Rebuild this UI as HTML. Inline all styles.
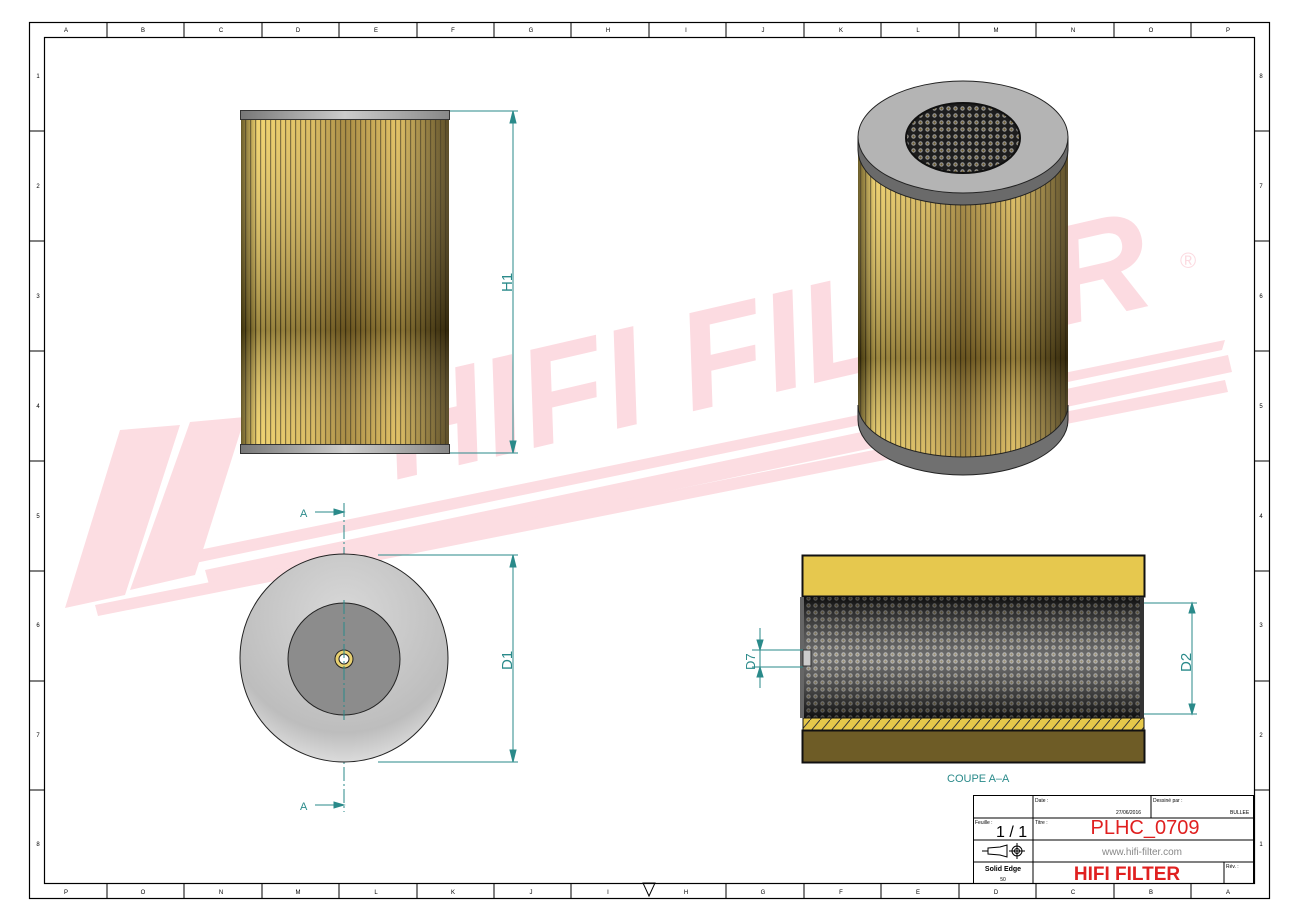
<!DOCTYPE html>
<html><head><meta charset="utf-8"><style>
body{margin:0;background:#fff}
svg{display:block}
text{font-family:"Liberation Sans",sans-serif}
</style></head><body>
<svg width="1300" height="924" viewBox="0 0 1300 924" xmlns="http://www.w3.org/2000/svg">
<defs>
<linearGradient id="gold" x1="0" x2="1" y1="0" y2="0">
<stop offset="0" stop-color="#5a4a10"/><stop offset="0.08" stop-color="#efcf62"/><stop offset="0.35" stop-color="#d6b452"/><stop offset="0.5" stop-color="#a08030"/><stop offset="0.75" stop-color="#e0bc56"/><stop offset="1" stop-color="#4a3a10"/>
</linearGradient>
<linearGradient id="goldv" x1="0" x2="0" y1="0" y2="1">
<stop offset="0" stop-color="#fff" stop-opacity="0.1"/><stop offset="0.65" stop-color="#000" stop-opacity="0.35"/><stop offset="1" stop-color="#fff" stop-opacity="0.1"/>
</linearGradient>
<pattern id="pleat" width="5" height="10" patternUnits="userSpaceOnUse"><rect width="1.2" height="10" fill="#2a2008" opacity="0.6"/></pattern>
<linearGradient id="cap" x1="0" x2="1"><stop offset="0" stop-color="#777"/><stop offset="0.5" stop-color="#ccc"/><stop offset="1" stop-color="#888"/></linearGradient>
<radialGradient id="disc" cx="0.5" cy="0.3" r="0.8"><stop offset="0" stop-color="#d8d8d8"/><stop offset="0.7" stop-color="#bdbdbd"/><stop offset="1" stop-color="#f0f0f0"/></radialGradient>
<pattern id="mesh" width="7" height="7" patternUnits="userSpaceOnUse"><rect width="7" height="7" fill="#1e1e1e"/><circle cx="3.5" cy="3.5" r="2.2" fill="#9a9a9a"/><circle cx="3.5" cy="3.5" r="1.1" fill="#6b5a2a"/></pattern>
<linearGradient id="meshsh" x1="0" x2="0" y1="0" y2="1"><stop offset="0" stop-color="#000" stop-opacity="0.5"/><stop offset="0.5" stop-color="#fff" stop-opacity="0.35"/><stop offset="1" stop-color="#000" stop-opacity="0.5"/></linearGradient>
<pattern id="hatch" width="10" height="12" patternUnits="userSpaceOnUse"><rect width="10" height="12" fill="#e6c84a"/><line x1="0" y1="12" x2="10" y2="0" stroke="#333" stroke-width="1"/></pattern>
</defs>
<rect width="1300" height="924" fill="#fff"/>
<!-- watermark -->
<g fill="#fcdde2">
<polygon points="65,608 120,430 180,425 125,595"/>
<polygon points="130,590 190,422 245,417 195,575"/>
<polygon points="205,570 1228,355 1232,372 210,588"/>
<polygon points="95,605 1225,380 1228,392 98,616"/>
<polygon points="150,560 1225,340 1222,350 152,572"/>
</g>
<text x="0" y="0" transform="translate(395,480) rotate(-13)" font-family="Liberation Serif,serif" font-weight="bold" font-style="italic" font-size="140" fill="#fcdbe1">HIFI FILTER</text>
<text x="1180" y="268" font-size="22" fill="#fcdbe1">®</text>
<!-- borders -->
<rect x="29.5" y="22.5" width="1240" height="876" fill="none" stroke="#000" stroke-width="1.2"/>
<rect x="44.5" y="37.5" width="1210" height="846" fill="none" stroke="#000" stroke-width="1.2"/>
<g stroke="#000" stroke-width="1">
<line x1="107" y1="23" x2="107" y2="37"/><line x1="184" y1="23" x2="184" y2="37"/><line x1="262" y1="23" x2="262" y2="37"/><line x1="339" y1="23" x2="339" y2="37"/><line x1="417" y1="23" x2="417" y2="37"/><line x1="494" y1="23" x2="494" y2="37"/><line x1="571" y1="23" x2="571" y2="37"/><line x1="649" y1="23" x2="649" y2="37"/><line x1="726" y1="23" x2="726" y2="37"/><line x1="804" y1="23" x2="804" y2="37"/><line x1="881" y1="23" x2="881" y2="37"/><line x1="959" y1="23" x2="959" y2="37"/><line x1="1036" y1="23" x2="1036" y2="37"/><line x1="1114" y1="23" x2="1114" y2="37"/><line x1="1191" y1="23" x2="1191" y2="37"/>
<line x1="107" y1="884" x2="107" y2="898"/><line x1="184" y1="884" x2="184" y2="898"/><line x1="262" y1="884" x2="262" y2="898"/><line x1="339" y1="884" x2="339" y2="898"/><line x1="417" y1="884" x2="417" y2="898"/><line x1="494" y1="884" x2="494" y2="898"/><line x1="571" y1="884" x2="571" y2="898"/><line x1="726" y1="884" x2="726" y2="898"/><line x1="804" y1="884" x2="804" y2="898"/><line x1="881" y1="884" x2="881" y2="898"/><line x1="959" y1="884" x2="959" y2="898"/><line x1="1036" y1="884" x2="1036" y2="898"/><line x1="1114" y1="884" x2="1114" y2="898"/><line x1="1191" y1="884" x2="1191" y2="898"/>
<line x1="30" y1="131" x2="44" y2="131"/><line x1="30" y1="241" x2="44" y2="241"/><line x1="30" y1="351" x2="44" y2="351"/><line x1="30" y1="461" x2="44" y2="461"/><line x1="30" y1="571" x2="44" y2="571"/><line x1="30" y1="681" x2="44" y2="681"/><line x1="30" y1="790" x2="44" y2="790"/>
<line x1="1255" y1="131" x2="1269" y2="131"/><line x1="1255" y1="241" x2="1269" y2="241"/><line x1="1255" y1="351" x2="1269" y2="351"/><line x1="1255" y1="461" x2="1269" y2="461"/><line x1="1255" y1="571" x2="1269" y2="571"/><line x1="1255" y1="681" x2="1269" y2="681"/><line x1="1255" y1="790" x2="1269" y2="790"/>
</g>
<g font-size="6" fill="#000" text-anchor="middle">
<text x="66" y="894">P</text><text x="143" y="894">O</text><text x="221" y="894">N</text><text x="298" y="894">M</text><text x="376" y="894">L</text><text x="453" y="894">K</text><text x="531" y="894">J</text><text x="608" y="894">I</text><text x="686" y="894">H</text><text x="763" y="894">G</text><text x="841" y="894">F</text><text x="918" y="894">E</text><text x="996" y="894">D</text><text x="1073" y="894">C</text><text x="1151" y="894">B</text><text x="1228" y="894">A</text>
<text x="1261" y="78">8</text><text x="1261" y="188">7</text><text x="1261" y="298">6</text><text x="1261" y="408">5</text><text x="1261" y="518">4</text><text x="1261" y="627">3</text><text x="1261" y="737">2</text><text x="1261" y="846">1</text>
<text x="66" y="32">A</text><text x="143" y="32">B</text><text x="221" y="32">C</text><text x="298" y="32">D</text><text x="376" y="32">E</text><text x="453" y="32">F</text><text x="531" y="32">G</text><text x="608" y="32">H</text><text x="686" y="32">I</text><text x="763" y="32">J</text><text x="841" y="32">K</text><text x="918" y="32">L</text><text x="996" y="32">M</text><text x="1073" y="32">N</text><text x="1151" y="32">O</text><text x="1228" y="32">P</text>
<text x="38" y="78">1</text><text x="38" y="188">2</text><text x="38" y="298">3</text><text x="38" y="408">4</text><text x="38" y="518">5</text><text x="38" y="627">6</text><text x="38" y="737">7</text><text x="38" y="846">8</text>
</g>
<polygon points="643,883 655,883 649,896" fill="none" stroke="#000"/>
<!-- front view -->
<rect x="241" y="119" width="208" height="325" fill="url(#gold)"/>
<rect x="241" y="119" width="208" height="325" fill="url(#pleat)"/>
<rect x="241" y="119" width="208" height="325" fill="url(#goldv)"/>
<rect x="240.5" y="110.5" width="209" height="9" fill="url(#cap)" stroke="#333"/>
<rect x="240.5" y="444.5" width="209" height="9" fill="url(#cap)" stroke="#333"/>
<g stroke="#2a8a8a" fill="#2a8a8a" stroke-width="1">
<line x1="450" y1="111" x2="518" y2="111"/><line x1="450" y1="453" x2="518" y2="453"/>
<line x1="513" y1="111" x2="513" y2="453"/>
<polygon points="513,111 510,123 516,123"/><polygon points="513,453 510,441 516,441"/>
<line x1="378" y1="555" x2="518" y2="555"/><line x1="378" y1="762" x2="518" y2="762"/>
<line x1="513" y1="555" x2="513" y2="762"/>
<polygon points="513,555 510,567 516,567"/><polygon points="513,762 510,750 516,750"/>
<line x1="344" y1="503" x2="344" y2="812" stroke-dasharray="14,3,2,3"/>
<line x1="315" y1="512" x2="344" y2="512"/><polygon points="344,512 334,509 334,515"/>
<line x1="315" y1="805" x2="344" y2="805"/><polygon points="344,805 334,802 334,808"/>
</g>
<g fill="#2a8a8a" font-size="15">
<text transform="translate(512,292) rotate(-90)">H1</text>
<text transform="translate(512,670) rotate(-90)">D1</text>
<text x="300" y="517" font-size="11">A</text><text x="300" y="810" font-size="11">A</text>
</g>
<!-- bottom view -->
<circle cx="344" cy="658" r="104" fill="url(#disc)" stroke="#222"/>
<circle cx="344" cy="659" r="56" fill="#8c8c8c" stroke="#222"/>
<circle cx="344" cy="659" r="9" fill="#e8d070" stroke="#222"/>
<circle cx="344" cy="659" r="5" fill="#fff" stroke="#222"/>
<line x1="344" y1="600" x2="344" y2="720" stroke="#2a8a8a" stroke-dasharray="14,3,2,3"/>
<!-- 3D view -->
<path d="M858,148 L858,420 A105,52 0 0 0 1068,420 L1068,148 Z" fill="url(#gold)"/>
<path d="M858,148 L858,420 A105,52 0 0 0 1068,420 L1068,148 Z" fill="url(#pleat)"/>
<path d="M858,148 L858,420 A105,52 0 0 0 1068,420 L1068,148 Z" fill="url(#goldv)"/>
<path d="M858,405 A105,52 0 0 0 1068,405 L1068,420 A105,55 0 0 1 858,420 Z" fill="#707070" stroke="#222"/>
<path d="M858,137 L858,150 A105,55 0 0 0 1068,150 L1068,137 Z" fill="#6a6a6a" stroke="#222"/>
<ellipse cx="963" cy="137" rx="105" ry="56" fill="#b4b4b4" stroke="#222"/>
<ellipse cx="963" cy="138" rx="57" ry="35" fill="url(#mesh)" stroke="#111" stroke-width="2"/>
<!-- section -->
<rect x="802.5" y="555.5" width="342" height="41" fill="#e6c84e" stroke="#111" stroke-width="2"/>
<rect x="803" y="597" width="341" height="121" fill="url(#mesh)"/>
<rect x="803" y="597" width="341" height="121" fill="url(#meshsh)"/>
<rect x="803" y="718" width="341" height="12" fill="url(#hatch)" stroke="#111"/>
<rect x="802.5" y="730.5" width="342" height="32" fill="#6e5c26" stroke="#111" stroke-width="2"/>
<rect x="800" y="597" width="4" height="121" fill="#666"/><rect x="1140" y="597" width="4" height="121" fill="#333"/>
<rect x="803" y="650" width="8" height="16" fill="#ccc" stroke="#333"/>
<g stroke="#2a8a8a" fill="#2a8a8a">
<line x1="1144" y1="603" x2="1197" y2="603"/><line x1="1144" y1="714" x2="1197" y2="714"/>
<line x1="1192" y1="603" x2="1192" y2="714"/>
<polygon points="1192,603 1189,613 1195,613"/><polygon points="1192,714 1189,704 1195,704"/>
<line x1="752" y1="650" x2="803" y2="650"/><line x1="752" y1="667" x2="803" y2="667"/>
<line x1="760" y1="628" x2="760" y2="688"/>
<polygon points="760,650 757,640 763,640"/><polygon points="760,667 757,677 763,677"/>
</g>
<g fill="#2a8a8a">
<text transform="translate(1191,672) rotate(-90)" font-size="15">D2</text>
<text transform="translate(755,670) rotate(-90)" font-size="13">D7</text>
<text x="947" y="782" font-size="11">COUPE A–A</text>
</g>
<!-- title block -->
<g stroke="#000" stroke-width="1" fill="none">
<rect x="973.5" y="795.5" width="280" height="88"/>
<line x1="973" y1="818" x2="1254" y2="818"/><line x1="973" y1="840" x2="1254" y2="840"/><line x1="973" y1="862" x2="1254" y2="862"/>
<line x1="1033" y1="796" x2="1033" y2="884"/><line x1="1151" y1="796" x2="1151" y2="818"/><line x1="1224" y1="862" x2="1224" y2="884"/>
<circle cx="1017" cy="851" r="5"/><circle cx="1017" cy="851" r="2.5"/>
<line x1="1017" y1="843" x2="1017" y2="859"/><line x1="1009" y1="851" x2="1025" y2="851"/>
<polygon points="988,848 1000,847 1007,845 1007,857 1000,855 988,854"/><line x1="982" y1="851" x2="988" y2="851"/>
</g>
<g fill="#000" font-size="5">
<text x="1035" y="802">Date :</text><text x="1153" y="802">Dessiné par :</text><text x="975" y="824">Feuille :</text><text x="1035" y="824">Titre :</text><text x="1226" y="868">Rév. :</text>
<text x="1116" y="814">27/06/2016</text><text x="1230" y="814">BULLEE</text>
</g>
<text x="996" y="837" font-size="16" fill="#000">1 / 1</text>
<text x="1145" y="834" font-size="20" fill="#e02020" text-anchor="middle">PLHC_0709</text>
<text x="1142" y="855" font-size="10" fill="#888" text-anchor="middle">www.hifi-filter.com</text>
<text x="1127" y="880" font-size="19" font-weight="bold" fill="#e02020" text-anchor="middle">HIFI FILTER</text>
<text x="1003" y="871" font-size="7" font-weight="bold" fill="#000" text-anchor="middle">Solid Edge</text>
<text x="1003" y="881" font-size="5" fill="#000" text-anchor="middle">50</text>
</svg>
</body></html>
